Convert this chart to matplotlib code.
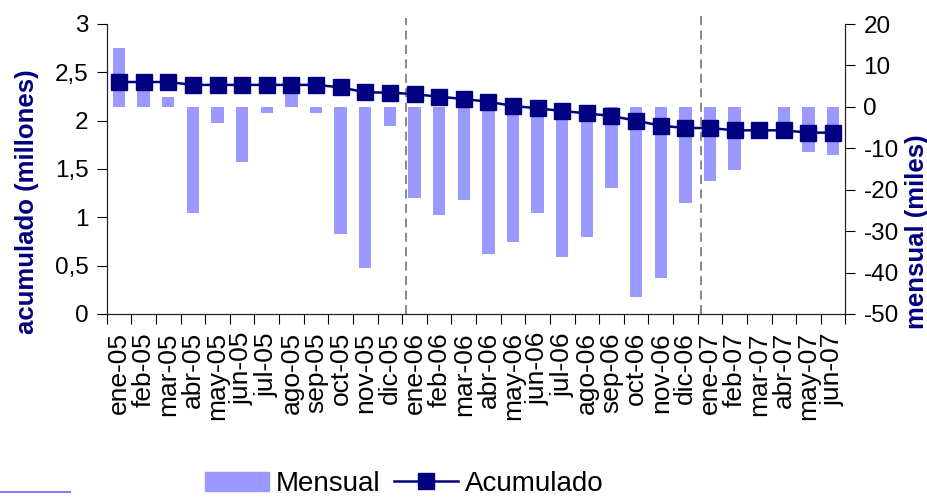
import matplotlib
matplotlib.use('Agg')
import matplotlib.pyplot as plt
import matplotlib.transforms as mtransforms
from matplotlib.lines import Line2D
from matplotlib.patches import Patch
import numpy as np

months = ['ene-05', 'feb-05', 'mar-05', 'abr-05', 'may-05', 'jun-05', 'jul-05', 'ago-05',
          'sep-05', 'oct-05', 'nov-05', 'dic-05', 'ene-06', 'feb-06', 'mar-06', 'abr-06',
          'may-06', 'jun-06', 'jul-06', 'ago-06', 'sep-06', 'oct-06', 'nov-06', 'dic-06',
          'ene-07', 'feb-07', 'mar-07', 'abr-07', 'may-07', 'jun-07']

# Mensual (miles) - right axis
mensual = [14.2, 4.5, 2.4, -25.6, -3.9, -13.2, -1.6, 4.0,
           -1.6, -30.8, -39.0, -4.5, -22.1, -26.2, -22.6, -35.4,
           -32.5, -25.5, -36.2, -31.3, -19.7, -46.0, -41.2, -23.1,
           -18.0, -15.2, 0.0, -5.0, -11.0, -11.5]

# Acumulado (millones) - left axis
acumulado = [2.40, 2.40, 2.40, 2.37, 2.37, 2.37, 2.37, 2.37,
             2.37, 2.345, 2.293, 2.29, 2.274, 2.248, 2.224, 2.196,
             2.152, 2.128, 2.10, 2.076, 2.048, 2.00, 1.948, 1.924,
             1.924, 1.90, 1.90, 1.90, 1.876, 1.876]

left_ticks = [0, 0.5, 1, 1.5, 2, 2.5, 3]
left_ticklabels = ['0', '0,5', '1', '1,5', '2', '2,5', '3']
right_ticks = [-50, -40, -30, -20, -10, 0, 10, 20]
right_ticklabels = ['-50', '-40', '-30', '-20', '-10', '0', '10', '20']

year_breaks = [11.67, 23.65]

plt.rcParams['font.family'] = ['Liberation Sans', 'DejaVu Sans']
plt.rcParams['axes.unicode_minus'] = False

BAR = '#9999FF'
NAVY = '#000080'

fig = plt.figure(figsize=(9.28, 5.0), dpi=100)
ax_bar = fig.add_axes([0.115, 0.372, 0.796, 0.580])
ax_line = ax_bar.twinx()

x = np.arange(len(months))
ax_bar.bar(x, mensual, width=0.5, color=BAR, zorder=2)
ax_bar.set_ylim(-50, 20)
ax_bar.set_xlim(-0.5, len(months) - 0.5)
ax_bar.yaxis.tick_right()
ax_bar.set_yticks(right_ticks, right_ticklabels)

ax_line.plot(x, acumulado, color=NAVY, lw=1.8, marker='s', ms=12,
             mfc=NAVY, mec=NAVY, zorder=3)
ax_line.set_ylim(0, 3)
ax_line.yaxis.tick_left()
ax_line.set_yticks(left_ticks, left_ticklabels)

# x ticks: marks at boundaries, labels at centres
ax_bar.set_xticks(np.arange(-0.5, len(months), 1))
ax_bar.set_xticklabels([])
ax_bar.set_xticks(x, months, minor=True)
ax_bar.tick_params(axis='x', which='major', length=7, width=0.8, direction='out')
ax_bar.tick_params(axis='x', which='minor', length=0, pad=13, labelsize=19,
                   labelrotation=90)

ax_bar.tick_params(axis='y', length=7, width=0.8, pad=6, labelsize=17.5)
ax_line.tick_params(axis='y', length=7, width=0.8, pad=6, labelsize=17.5)

for a in (ax_bar, ax_line):
    a.spines['top'].set_visible(False)
    for s in ('left', 'right', 'bottom'):
        a.spines[s].set_linewidth(0.8)
        a.spines[s].set_color('#222222')

trans = mtransforms.blended_transform_factory(ax_bar.transData, ax_bar.transAxes)
for xb, top in zip(year_breaks, [1.02, 1.04]):
    ax_bar.plot([xb, xb], [0, top], transform=trans, color='#808080', lw=1.3,
                ls=(0, (5, 3)), clip_on=False, zorder=1)

fig.text(27 / 928, 1 - 202 / 500, 'acumulado (millones)', rotation=90, ha='center',
         va='center', fontsize=18.5, fontweight='bold', color=NAVY)
fig.text(917 / 928, 1 - 232 / 500, 'mensual (miles)', rotation=90, ha='center',
         va='center', fontsize=18.5, fontweight='bold', color=NAVY)

handles = [Patch(facecolor=BAR, edgecolor=BAR),
           Line2D([], [], color=NAVY, lw=1.8, marker='s', ms=12, mfc=NAVY, mec=NAVY)]
fig.legend(handles, ['Mensual', 'Acumulado'], loc='center left',
           bbox_to_anchor=(205 / 928, 1 - 484 / 500), ncol=2, frameon=False,
           fontsize=20, handlelength=2.3, handletextpad=0.25, columnspacing=0.5,
           borderpad=0, borderaxespad=0, handleheight=0.7)

fig.add_artist(Line2D([0, 70 / 928], [1 - 492 / 500, 1 - 492 / 500],
                      transform=fig.transFigure, color='#8080FF', lw=1.5))

fig.savefig('out.png', dpi=100)
